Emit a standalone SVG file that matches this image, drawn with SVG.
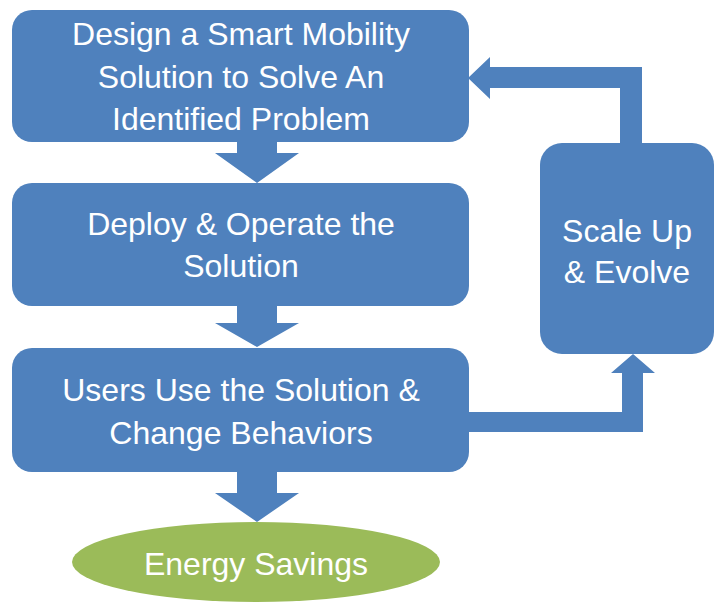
<svg xmlns="http://www.w3.org/2000/svg" width="716" height="603" viewBox="0 0 716 603">
<style>
.box{fill:#4F81BD}
.ell{fill:#9BBB59}
.arr{fill:#4F81BD}
.t{fill:#fff;font-family:"Liberation Sans",Arial,sans-serif;font-size:32px;text-anchor:middle}
</style>
<rect width="716" height="603" fill="#fff"/>
<g id="connectors">
<polygon class="arr" points="237,142 277,142 277,153 299,153 257,183 215,153 237,153"/>
<polygon class="arr" points="237,305 277,305 277,323 299,323 257,347 215,323 237,323"/>
<polygon class="arr" points="237,471 277,471 277,493 299,493 257,522 215,493 237,493"/>
<polygon class="arr" points="469,412 622,412 622,373 611,373 633,354 655,373 643,373 643,432 469,432"/>
<polygon class="arr" points="620,143 620,88 490,88 490,99 468,78 490,57 490,67 642,67 642,143"/>
</g>
<g id="design">
<rect class="box" x="12" y="10" width="457" height="132" rx="20"/>
<text class="t" x="241" y="45">Design a Smart Mobility</text>
<text class="t" x="241" y="88">Solution to Solve An</text>
<text class="t" x="241" y="130">Identified Problem</text>
</g>
<g id="deploy">
<rect class="box" x="12" y="183" width="457" height="123" rx="20"/>
<text class="t" x="241" y="235">Deploy &amp; Operate the</text>
<text class="t" x="241" y="277">Solution</text>
</g>
<g id="users">
<rect class="box" x="12" y="348" width="457" height="124" rx="20"/>
<text class="t" x="241" y="401">Users Use the Solution &amp;</text>
<text class="t" x="241" y="444">Change Behaviors</text>
</g>
<g id="scale">
<rect class="box" x="540" y="143" width="174" height="211" rx="22"/>
<text class="t" x="627" y="242">Scale Up</text>
<text class="t" x="627" y="283">&amp; Evolve</text>
</g>
<g id="energy">
<ellipse class="ell" cx="256" cy="562" rx="184" ry="40"/>
<text class="t" x="256" y="575">Energy Savings</text>
</g>
</svg>
